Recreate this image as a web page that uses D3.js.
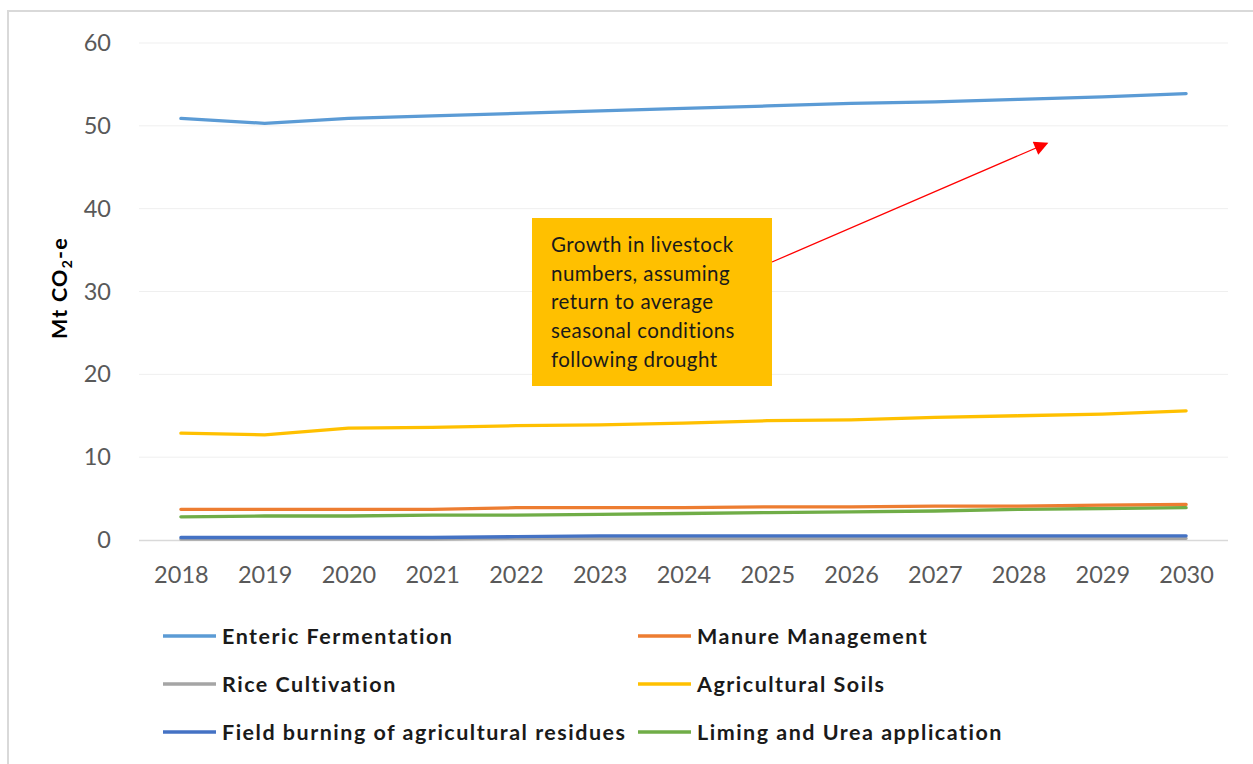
<!DOCTYPE html>
<html><head><meta charset="utf-8">
<script src="https://cdn.jsdelivr.net/npm/d3@7"></script>
<style>body{margin:0;background:#fff}svg{display:block}</style>
</head><body>
<svg id="c" width="1253" height="764"></svg>
<script>
const years = ["2018","2019","2020","2021","2022","2023","2024","2025","2026","2027","2028","2029","2030"];
const yTicks = [0,10,20,30,40,50,60];
const enteric = [50.9,50.3,50.9,51.2,51.5,51.8,52.1,52.4,52.7,52.9,53.2,53.5,53.9];
const manure = [3.7,3.7,3.7,3.7,3.9,3.9,3.9,4.0,4.0,4.1,4.1,4.2,4.3];
const rice = [0.1,0.1,0.1,0.1,0.2,0.2,0.2,0.2,0.2,0.2,0.2,0.2,0.2];
const soils = [12.9,12.7,13.5,13.6,13.8,13.9,14.1,14.4,14.5,14.8,15.0,15.2,15.6];
const burning = [0.3,0.3,0.3,0.3,0.4,0.5,0.5,0.5,0.5,0.5,0.5,0.5,0.5];
const liming = [2.8,2.9,2.9,3.0,3.0,3.1,3.2,3.3,3.4,3.5,3.7,3.8,3.9];
const seriesNames = ["Enteric Fermentation","Manure Management","Rice Cultivation","Agricultural Soils","Field burning of agricultural residues","Liming and Urea application"];
const seriesColors = ["#5B9BD5","#ED7D31","#A5A5A5","#FFC000","#4472C4","#70AD47"];
const seriesData = [enteric, manure, rice, soils, burning, liming];
const annotationLines = ["Growth in livestock","numbers, assuming","return to average","seasonal conditions","following drought"];
const arrowTarget = {index: 10.34, value: 47.9};

const svg = d3.select("#c");
const L = 139, R = 1228, T = 43, B = 540;
const x = d3.scalePoint().domain(years).range([L, R]).padding(0.5);
const y = d3.scaleLinear().domain([0,60]).range([B, T]);
const font = "Lato, 'Open Sans', sans-serif";

// outer border
svg.append("rect").attr("x",8).attr("y",11).attr("width",1260).attr("height",780)
  .attr("fill","none").attr("stroke","#d9d9d9").attr("stroke-width",2);

// gridlines
svg.append("g").selectAll("line").data(yTicks.filter(d=>d>0)).join("line")
  .attr("x1",L).attr("x2",R).attr("y1",d=>y(d)).attr("y2",d=>y(d))
  .attr("stroke","#efefef").attr("stroke-width",1);
svg.append("line").attr("x1",L).attr("x2",R).attr("y1",y(0)+0.5).attr("y2",y(0)+0.5)
  .attr("stroke","#d9d9d9").attr("stroke-width",1.5);

// y axis
const yAx = svg.append("g").attr("transform",`translate(${L},0)`)
  .call(d3.axisLeft(y).tickValues(yTicks).tickSize(0).tickPadding(28));
yAx.select(".domain").remove();
yAx.selectAll("text").attr("font-family",font).attr("font-size",23.5).attr("fill","#595959");

// x axis
const xAx = svg.append("g").attr("transform",`translate(0,${B})`)
  .call(d3.axisBottom(x).tickSize(0).tickPadding(26));
xAx.select(".domain").remove();
xAx.selectAll("text").attr("font-family",font).attr("font-size",23.5).attr("fill","#595959");

// y title
const yt = svg.append("text").attr("transform","translate(67,288) rotate(-90)")
  .attr("text-anchor","middle").attr("font-family",font)
  .attr("font-weight","bold").attr("font-size",21.5).attr("letter-spacing",1.2).attr("fill","#000");
yt.append("tspan").text("Mt CO");
yt.append("tspan").text("2").attr("font-size",14).attr("dy",5);
yt.append("tspan").text("-e").attr("dy",-5);

// lines
const line = d3.line().x((d,i)=>x(years[i])).y(d=>y(d));
const order = [2,4,5,1,3,0];
svg.append("g").selectAll("path").data(order).join("path")
  .attr("d",i=>line(seriesData[i])).attr("fill","none")
  .attr("stroke",i=>seriesColors[i]).attr("stroke-width",3.3)
  .attr("stroke-linejoin","round").attr("stroke-linecap","round");

// annotation arrow
svg.append("defs").append("marker").attr("id","ah").attr("viewBox","0 0 10 10")
  .attr("refX",9).attr("refY",5).attr("markerWidth",15).attr("markerHeight",14)
  .attr("markerUnits","userSpaceOnUse").attr("orient","auto")
  .append("path").attr("d","M0,0L10,5L0,10Z").attr("fill","#FF0000");
const step = x.step();
svg.append("line").attr("x1",772).attr("y1",262)
  .attr("x2",x(years[0]) + arrowTarget.index*step).attr("y2",y(arrowTarget.value))
  .attr("stroke","#FF0000").attr("stroke-width",1.3).attr("marker-end","url(#ah)");

// annotation box
svg.append("rect").attr("x",532).attr("y",218).attr("width",240).attr("height",168).attr("fill","#FFC000");
svg.append("g").selectAll("text").data(annotationLines).join("text")
  .attr("x",551).attr("y",(d,i)=>252+i*28.7).text(d=>d)
  .attr("font-family",font).attr("font-size",20.5).attr("letter-spacing",0.45).attr("fill","#1a1a1a");

// legend
const lg = svg.append("g").selectAll("g").data(seriesNames).join("g")
  .attr("transform",(d,i)=>`translate(${i%2===0?163:638},${636+Math.floor(i/2)*48})`);
lg.append("line").attr("x1",0).attr("x2",53).attr("y1",0).attr("y2",0)
  .attr("stroke",(d,i)=>seriesColors[i]).attr("stroke-width",3.3);
lg.append("text").attr("x",59).attr("y",8).text(d=>d)
  .attr("font-family",font).attr("font-weight","bold")
  .attr("font-size",21.5).attr("letter-spacing",1.5).attr("fill","#1a1a1a");
</script>
</body></html>
